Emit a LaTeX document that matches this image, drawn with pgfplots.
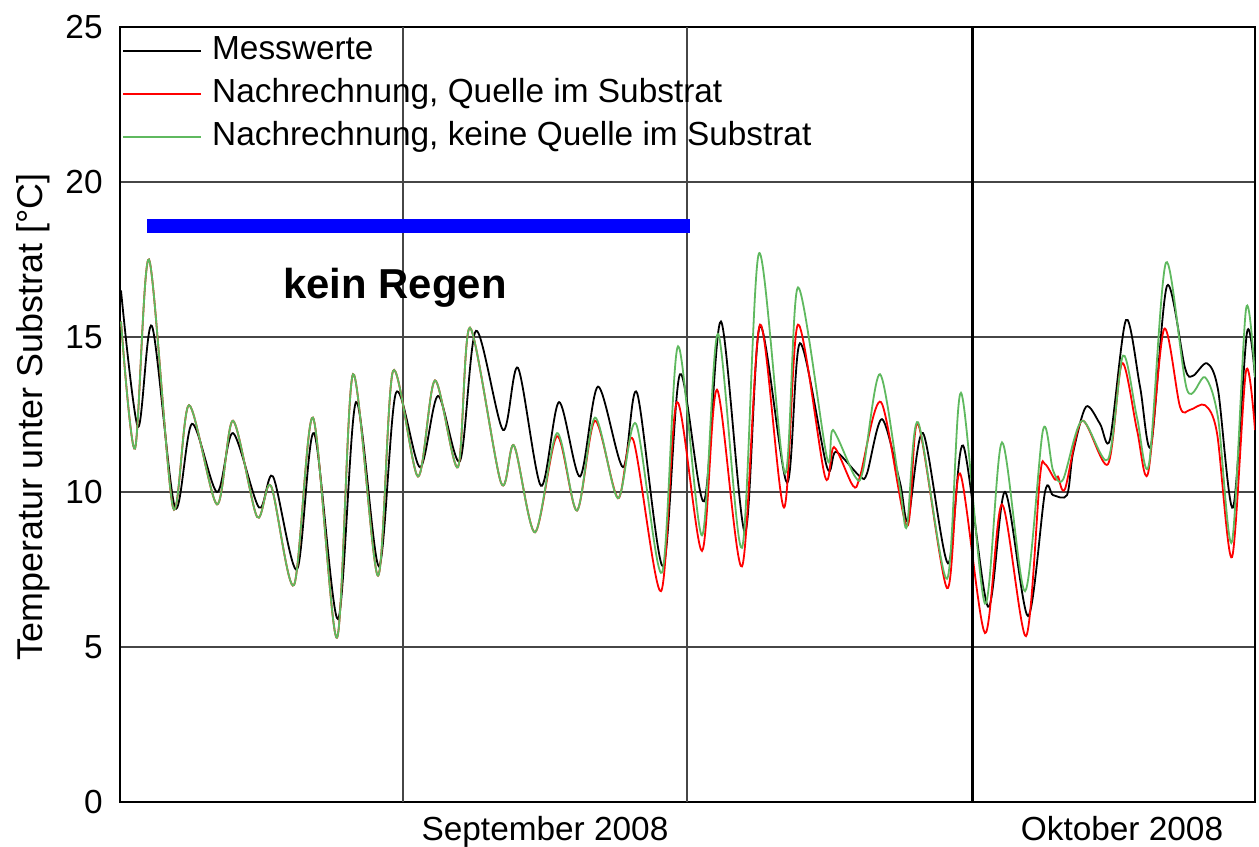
\documentclass[border=0pt]{standalone}
\usepackage{fontspec}
\setmainfont{Liberation Sans}
\usepackage{pgfplots}
\pgfplotsset{compat=1.18}
\definecolor{mgreen}{RGB}{95,185,95}
\definecolor{gridgray}{RGB}{70,70,70}
\begin{document}
\begin{tikzpicture}
\begin{axis}[
  scale only axis, width=567.5bp, height=387.5bp,
  xmin=120, xmax=1255, ymin=0, ymax=25,
  ytick={0,5,...,25},
  xtick={545,1122}, xticklabels={September 2008, Oktober 2008},
  extra x ticks={403,687}, extra x tick labels={},
  extra x tick style={grid=major, major grid style={gridgray, line width=0.7bp}},
  ymajorgrids, major grid style={gridgray, line width=0.9bp},
  major tick length=0pt,
  axis line style={black, line width=1.3bp},
  tick label style={font=\fontsize{16.75}{20}\selectfont, inner sep=0pt},
  yticklabel style={xshift=-8.5bp},
  xticklabel style={yshift=-7bp, anchor=north},
  /pgf/number format/assume math mode=true,
  legend cell align=left,
  legend style={at={(rel axis cs:0,1)}, anchor=north west, draw=none, fill=none,
    inner xsep=1bp, inner ysep=4bp, font=\fontsize{16.75}{20}\selectfont,
    row sep=6bp, column sep=5bp,
    nodes={inner sep=0pt, text height=12bp, text depth=3.5bp}},
  legend image code/.code={\draw[#1] (0bp,0bp) -- (39bp,0bp);},
]
\addplot[black, line width=0.9bp, smooth] coordinates {
(121,16.5)(138,12.1)(152,15.35)(175,9.5)(192,12.2)(217,10.0)(233,11.9)(259,9.5)(273,10.5)(297,7.5)
(314,11.9)(338,5.9)(356,12.9)(379,7.6)(396,13.2)(420,10.8)(438,13.1)(460,11.0)(476,15.2)(503,12.0)
(518,14.0)(541,10.2)(559,12.9)(580,10.5)(598,13.4)(623,10.8)(637,13.2)(663,7.6)(680,13.8)(704,9.7)
(721,15.5)(745,8.7)(760,15.35)(787,10.3)(800,14.8)(827,10.8)(836,11.3)(860,10.5)(867,10.6)(882,12.35)
(900,10.3)(908,9.1)(923,11.9)(948,7.7)(963,11.5)(988,6.3)(1005,10.0)(1028,6.0)(1045,10.0)(1053,9.9)
(1067,9.9)(1073,11.25)(1086,12.75)(1100,12.2)(1110,11.7)(1126,15.55)(1140,13.4)(1151,11.5)(1167,16.65)
(1185,14.0)(1193,13.75)(1207,14.15)(1218,13.3)(1233,9.5)(1247,15.15)(1255,13.7)};
\addlegendentry{Messwerte}
\addplot[red, line width=0.9bp, smooth] coordinates {
(121,15.5)(135,11.4)(149,17.5)(173,9.5)(189,12.8)(217,9.6)(233,12.3)(257,9.2)(271,10.2)(294,7.0)
(313,12.4)(337,5.3)(353,13.8)(378,7.3)(393,13.9)(418,10.5)(435,13.6)(458,10.8)(470,15.3)(501,10.3)
(514,11.5)(535,8.7)(557,11.8)(577,9.4)(595,12.3)(618,9.8)(633,11.7)(661,6.8)(677,12.9)(702,8.1)
(717,13.3)(742,7.6)(760,15.4)(784,9.5)(798,15.4)(825,10.5)(834,11.45)(853,10.2)(860,10.5)(881,12.9)
(907,8.9)(918,12.2)(947,6.9)(960,10.6)(985,5.45)(1002,9.6)(1026,5.35)(1040,10.5)(1045,10.9)(1055,10.4)
(1058,10.5)(1065,10.1)(1082,12.3)(1108,10.9)(1122,14.15)(1137,12.0)(1148,10.6)(1164,15.25)(1180,12.75)
(1190,12.65)(1205,12.8)(1217,11.9)(1232,7.9)(1246,13.9)(1255,12.0)};
\addlegendentry{Nachrechnung, Quelle im Substrat}
\addplot[mgreen, line width=0.9bp, smooth] coordinates {
(121,15.5)(135,11.4)(149,17.5)(173,9.5)(189,12.8)(217,9.6)(233,12.3)(257,9.2)(271,10.2)(294,7.0)
(313,12.4)(337,5.3)(353,13.8)(378,7.3)(393,13.9)(418,10.5)(435,13.6)(458,10.8)(470,15.3)(501,10.3)
(514,11.5)(535,8.7)(557,11.9)(577,9.4)(595,12.4)(618,9.8)(636,12.2)(662,7.4)(678,14.7)(702,8.6)
(718,15.1)(742,8.2)(759,17.7)(785,10.6)(798,16.6)(827,11.1)(833,12.0)(855,10.5)(863,10.7)(880,13.8)
(900,10.1)(907,8.9)(918,12.25)(947,7.2)(961,13.2)(985,6.4)(1002,11.6)(1025,6.8)(1043,12.0)(1053,10.7)
(1063,10.4)(1082,12.3)(1108,11.05)(1123,14.4)(1137,12.4)(1149,10.9)(1166,17.4)(1187,13.3)(1205,13.7)
(1218,12.4)(1232,8.4)(1246,15.9)(1255,13.7)};
\addlegendentry{Nachrechnung, keine Quelle im Substrat}
\addplot[black, line width=1.5bp, forget plot] coordinates {(972,0)(972,25)};
\addplot[blue, line width=7bp, forget plot] coordinates {(147,18.58)(690,18.58)};
\node[font=\bfseries\fontsize{21}{25}\selectfont] at (axis cs:395,16.6) {kein Regen};
\end{axis}
\node[rotate=90, font=\fontsize{18}{22}\selectfont] at ([xshift=-43.5bp, yshift=-1.25bp]current axis.west) {Temperatur unter Substrat [°C]};
\pgfresetboundingbox
\path[use as bounding box] ([xshift=-60bp,yshift=-22.5bp]current axis.south west) rectangle ([xshift=2bp,yshift=13.5bp]current axis.north east);
\end{tikzpicture}
\end{document}
